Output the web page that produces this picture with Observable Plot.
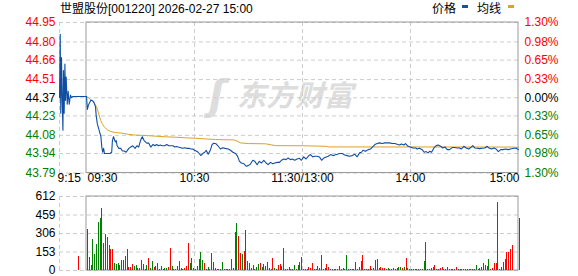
<!DOCTYPE html>
<html><head><meta charset="utf-8">
<script src="https://cdn.jsdelivr.net/npm/d3@7"></script>
<script src="https://cdn.jsdelivr.net/npm/@observablehq/plot@0.6"></script>
<style>
body{margin:0;background:#fff;}
#wrap{position:relative;width:578px;height:276px;overflow:hidden;font-family:"Liberation Sans",Arial,"Noto Sans CJK SC",sans-serif;font-size:12px;color:#000;}
.abs{position:absolute;line-height:14px;white-space:nowrap;}
.sw{position:absolute;width:6px;height:3px;}
#price{position:absolute;left:0;top:0;}
#vol{position:absolute;left:0;top:190px;}
</style></head>
<body>
<div id="wrap">
  <div id="price"></div>
  <div id="vol"></div>
  <div class="abs" id="title" style="left:60px;top:2px;"></div>
  <div class="abs" id="lg1" style="left:432px;top:2px;"></div>
  <div class="sw" style="left:462px;top:5px;background:#1a4fa0;"></div>
  <div class="abs" id="lg2" style="left:477px;top:2px;"></div>
  <div class="sw" style="left:508px;top:5px;background:#e0a419;"></div>
</div>
<script>
const titleText = "世盟股份[001220] 2026-02-27 15:00";
const legendNames = ["价格", "均线"];
const watermark = "东方财富";
const prevClose = 44.37;
const priceTicks = [44.95, 44.80, 44.66, 44.51, 44.37, 44.23, 44.08, 43.94, 43.79];
const pctLabels = ["1.30%", "0.98%", "0.65%", "0.33%", "0.00%", "0.33%", "0.65%", "0.98%", "1.30%"];
const volTicks = [0, 153, 306, 459, 612];
const timeTicks = [-15, 0, 60, 120, 180, 240];
const timeLabels = ["9:15", "09:30", "10:30", "11:30/13:00", "14:00", "15:00"];
const gridMinutes = [-15, 60, 120, 180];
const sessionStart = 0, sessionEnd = 240;

// price line: [minutes from 09:30, price]
const pricePoints = [[-15,44.37],[-14.6,44.86],[-14.3,44.25],[-13.9,44.68],[-13.5,44.35],[-13.1,44.12],[-12.8,44.58],[-12.4,44.25],[-12.0,44.63],[-11.7,44.35],[-11.3,44.53],[-10.7,44.32],[-10.2,44.42],[-9.6,44.32],[-8.9,44.39],[-8.3,44.37],[-7.6,44.38],[-5,44.38],
[0,44.38],[0.5,44.28],[1,44.31],[2,44.34],[2.4,44.35],[3,44.35],[4,44.34],[5,44.30],[5.4,44.23],[6,44.17],[7,44.12],[8,44.07],[8.5,43.99],[9,43.95],[9.5,43.98],[10,43.94],[11,43.94],[12,43.94],[13,43.94],[14,43.95],[14.4,44.04],[15,44.07],[16,44.03],[16.5,44.04],[17,44.00],[18,43.98],[19,43.98],[20,43.96],[21,43.96],[22,43.95],[23.5,43.98],[24.6,43.99],[25.7,44.00],[27,43.98],[28,44.00],[29,43.99],[30,44.04],[31,44.07],[32,44.04],[33.5,44.02],[34.6,44.02],[35.7,43.99],[37,44.01],[38,44.00],[39,44.01],[40,44.00],[41,44.005],[42,44.00],[43.5,44.00],[44.6,44.01],[45.7,44.00],[47,44.00],[48,44.00],[49,43.99],[50,43.995],[51,43.99],[52.4,43.985],[53.5,43.98],[54.6,43.985],[55.7,43.98],[57,43.98],[58,43.975],[59,43.975],[60,43.965],[61,43.96],[62,43.95],[63.5,43.925],[64.6,43.94],[65.7,43.95],[66.5,43.965],[67.6,43.935],[68.9,43.97],[69.8,44.01],[70.7,44.02],[72,44.015],[73,44.00],[74.4,43.975],[75.7,43.985],[77,43.98],[78.7,43.975],[80,43.965],[81.3,43.95],[82.8,43.94],[83.9,43.92],[85,43.88],[86,43.867],[87.4,43.862],[88.7,43.842],[89.8,43.847],[91,43.857],[92.4,43.888],[93.5,43.88],[94.8,43.854],[96,43.88],[97.2,43.867],[98.5,43.888],[99.8,43.867],[100.9,43.854],[102.2,43.872],[103.5,43.862],[104.6,43.867],[105.9,43.872],[107.2,43.872],[108.3,43.888],[109.6,43.898],[110.9,43.893],[112,43.906],[113.3,43.893],[114.3,43.898],[115.7,43.888],[117,43.898],[118.3,43.903],[119.4,43.888],[120.7,43.914],[122,43.898],[123.5,43.924],[124.4,43.932],[125.7,43.914],[126.8,43.919],[128.1,43.919],[129.4,43.914],[130.6,43.888],[131.9,43.906],[133.2,43.914],[134.3,43.919],[135.6,43.932],[136.9,43.924],[138,43.929],[139.3,43.934],[140.6,43.94],[142.1,43.94],[143.5,43.929],[144.8,43.924],[146.1,43.919],[147.6,43.924],[149.1,43.934],[150.4,43.915],[151.7,43.945],[152.8,43.95],[153.6,43.965],[155,43.957],[156.5,43.97],[157.8,43.975],[159,43.991],[160.2,44.009],[161.5,44.017],[162.8,44.022],[164.3,44.017],[165.7,44.022],[167,44.022],[168.3,44.022],[169.8,44.017],[171.3,44.017],[172.6,44.011],[173.9,44.006],[175,44.014],[176.3,44.006],[177.2,44.017],[178.7,43.996],[180,43.991],[181.3,43.983],[182.8,43.983],[183.7,43.975],[185,43.981],[186.5,43.97],[187.6,43.95],[188.7,43.955],[189.8,43.945],[190.6,43.957],[191.7,43.95],[193,43.983],[194.3,44.001],[195.4,44.006],[196.7,43.996],[198,43.983],[199.1,43.991],[200.4,43.97],[201.7,43.97],[203.2,43.986],[204.6,43.986],[205.9,43.983],[207.2,43.983],[208.3,43.975],[209.6,43.996],[210.9,43.983],[212.4,43.975],[213.9,43.991],[214.6,44.001],[215.7,43.983],[217,43.981],[218.3,43.978],[219.8,43.981],[221.3,43.983],[222.6,43.996],[223.5,43.983],[225,43.975],[226.3,43.983],[227.6,43.975],[228.8,43.955],[230.1,43.97],[231.4,43.97],[232.8,43.975],[234.3,43.97],[235.6,43.975],[237.4,43.981],[238.7,43.981],[240,43.97]];

// average line: [minutes, price]
const avgPoints = [[-5,44.38],[0,44.38],[1.3,44.368],[3,44.348],[4.6,44.322],[5.7,44.297],[6.8,44.245],[7.9,44.194],[9,44.163],[10,44.143],[11.7,44.122],[13.5,44.11],[16,44.102],[19.8,44.097],[23.5,44.087],[27.2,44.082],[32.8,44.079],[38.3,44.074],[43.9,44.069],[49.4,44.066],[55,44.061],[60.6,44.058],[66,44.053],[71.7,44.048],[82,44.045],[83.7,44.035],[85.6,44.022],[90,44.017],[99.5,44.015],[102,44.009],[105,44.001],[120,44.0],[133,43.996],[134.7,43.991],[152,43.991],[237,43.99],[240,43.986]];

// volume per minute (index 0 = 09:30 ... 240 = 15:00)
const volumes = [339,108,41,256,132,215,397,430,513,223,
298,273,207,174,174,58,50,58,41,83,
83,116,174,25,25,50,33,41,17,17,
83,50,8,41,99,17,74,25,33,58,
8,33,8,17,17,25,182,33,8,8,
33,74,17,8,17,33,223,58,99,17,
8,33,91,149,83,58,8,25,8,141,
66,17,8,8,8,66,8,8,8,8,
91,17,314,389,281,141,132,157,331,74,
58,17,41,8,25,50,58,25,50,33,
66,17,8,99,17,8,41,50,33,182,
8,8,25,8,8,41,8,41,66,108,
8,8,8,25,17,58,8,8,33,17,
124,8,17,50,25,8,8,8,8,8,
33,8,17,8,124,8,8,8,8,66,
8,25,74,124,8,8,8,33,8,17,
83,91,17,25,17,17,8,17,8,8,
17,8,17,25,25,17,25,99,17,8,
8,8,8,8,8,8,8,74,232,8,
8,17,25,41,8,8,17,25,8,8,
25,8,8,8,8,25,8,8,8,8,
8,8,8,8,8,8,41,8,17,25,
58,41,33,91,8,17,58,58,562,8,
25,66,91,149,149,174,207,0,0,0,
430];
const volumeDirs = "GRRGGGGGGR"+"GRGRRGGGGG"+"GRGRRRGGGR"+"RGGGRGGRGR"+"GRGGGRRGRR"+"GRGRRRRGGR"+"GGGGGRRGRR"+"RGGGGGRRRR"+"RGGGRRGRGR"+"RGRRGGRGRR"+"GGRRGRRRRR"+"RRGRRGRGGR"+"RRRRRRRRRR"+"GRRRRGGGRR"+"RRRRGRRRRG"+"RGRRRRRRRR"+"RRRRRRRGRR"+"RRGGGRGRRR"+"GGGGGGGGGR"+"RRRRRRRRRG"+"GRRGGRRRRR"+"RRRRRRGRGR"+"RRRGGRRRGR"+"GRGRRRRRRR"+"G";
const preMarketVolume = {t: -5, v: 116, dir: "R"};

const RED = "#ff0000", GREEN = "#008000", BLUE = "#0f4ea3", ORANGE = "#dea126";
const GRID = "#cccccc", FRAME = "#999999", WATERMARK = "#dddddd";
const tickColor = v => Math.abs(v - prevClose) < 0.005 ? "#000" : (v > prevClose ? RED : GREEN);

document.getElementById("title").textContent = titleText;
document.getElementById("lg1").textContent = legendNames[0];
document.getElementById("lg2").textContent = legendNames[1];

const xDomain = [timeTicks[0], sessionEnd];
const style = {fontFamily: "'Liberation Sans', Arial, sans-serif", fontSize: "12px", background: "transparent", overflow: "visible"};

const priceData = pricePoints.map(([t, p]) => ({t, p}));
const avgData = avgPoints.map(([t, p]) => ({t, p}));
const yDom = [priceTicks[priceTicks.length - 1], priceTicks[0]];

const anchors = timeLabels.map((_, i) => i < 2 ? "start" : i === timeLabels.length - 1 ? "end" : "middle");
const dxs = timeLabels.map((_, i) => i === 0 ? -2 : i === 1 ? 1 : i === timeLabels.length - 1 ? 1 : 0);

const priceChart = Plot.plot({
  width: 578, height: 190,
  marginLeft: 59, marginRight: 60, marginTop: 22, marginBottom: 17.5,
  x: {domain: xDomain, axis: null},
  y: {domain: yDom, axis: null},
  color: {type: "identity"},
  style,
  marks: [
    Plot.text(["ʃ"], {frameAnchor: "middle", dx: -72, dy: -2, fontSize: 40, fontWeight: "bold", fontStyle: "italic", fill: WATERMARK, fontFamily: "'DejaVu Sans', sans-serif"}),
    Plot.text([watermark], {frameAnchor: "middle", dx: 6, dy: -1, fontSize: 29, fontWeight: "bold", fontStyle: "italic", fill: WATERMARK, fontFamily: "'Noto Sans CJK SC', sans-serif"}),
    Plot.ruleY(priceTicks, {stroke: GRID, strokeDasharray: "4,3"}),
    Plot.ruleX(gridMinutes, {stroke: GRID, strokeDasharray: "4,3"}),
    Plot.rect([0], {x1: sessionStart, x2: sessionEnd, y1: yDom[0], y2: yDom[1], fill: "none", stroke: FRAME}),
    Plot.line(avgData, {x: "t", y: "p", stroke: ORANGE, strokeWidth: 1}),
    Plot.line(priceData, {x: "t", y: "p", stroke: BLUE, strokeWidth: 1.1}),
    Plot.text(priceTicks, {y: d => d, text: d => d.toFixed(2), frameAnchor: "left", dx: -4, textAnchor: "end", fill: d => tickColor(d)}),
    Plot.text(priceTicks, {y: d => d, text: (d, i) => pctLabels[i], frameAnchor: "right", dx: 6, textAnchor: "start", fill: d => tickColor(d)}),
    ...timeLabels.map((lab, i) => Plot.text([lab], {x: () => timeTicks[i], text: d => d, frameAnchor: "bottom", dy: 9, dx: dxs[i], textAnchor: anchors[i], fill: "#000"}))
  ]
});
document.getElementById("price").appendChild(priceChart);

const volData = [preMarketVolume, ...volumes.map((v, i) => ({t: i, v, dir: volumeDirs[i]}))].filter(d => d.v > 0);

const volChart = Plot.plot({
  width: 578, height: 86,
  marginLeft: 59, marginRight: 60, marginTop: 6, marginBottom: 6,
  x: {domain: xDomain, axis: null},
  y: {domain: [volTicks[0], volTicks[volTicks.length - 1]], axis: null},
  color: {type: "identity"},
  style,
  marks: [
    Plot.ruleY(volTicks, {stroke: GRID, strokeDasharray: "4,3"}),
    Plot.ruleX(gridMinutes, {stroke: GRID, strokeDasharray: "4,3"}),
    Plot.rect([0], {x1: sessionStart, x2: sessionEnd, y1: volTicks[0], y2: volTicks[volTicks.length - 1], fill: "none", stroke: FRAME}),
    Plot.ruleX(volData, {x: "t", y1: 0, y2: "v", dx: 1, stroke: d => d.dir === "R" ? RED : GREEN, strokeWidth: 1, shapeRendering: "crispEdges"}),
    Plot.text(volTicks, {y: d => d, text: d => String(d), frameAnchor: "left", dx: -4, textAnchor: "end", fill: "#000"})
  ]
});
document.getElementById("vol").appendChild(volChart);
</script>
</body></html>
